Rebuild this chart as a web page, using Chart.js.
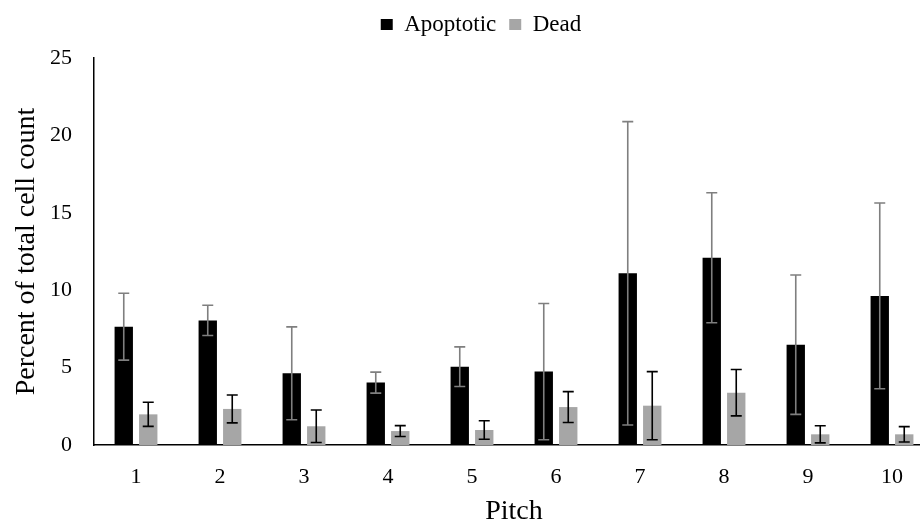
<!DOCTYPE html>
<html>
<head>
<meta charset="utf-8">
<script src="https://cdn.jsdelivr.net/npm/chart.js@4.4.0/dist/chart.umd.min.js"></script>
<style>
  html, body { margin: 0; padding: 0; background: #fff; overflow: hidden; }
  #wrap { width: 940px; height: 530px; }
</style>
</head>
<body>
<div id="wrap"><canvas id="chart"></canvas></div>
<script>
// ---- data ----
const pitches = ['1', '2', '3', '4', '5', '6', '7', '8', '9', '10'];
const apoptotic = [7.64, 8.05, 4.63, 4.03, 5.06, 4.74, 11.09, 12.1, 6.48, 9.63];
const apoptoticErr = [2.16, 0.98, 3.0, 0.68, 1.28, 4.4, 9.8, 4.2, 4.5, 6.0];
const dead = [1.98, 2.33, 1.21, 0.9, 0.97, 2.45, 2.54, 3.38, 0.69, 0.69];
const deadErr = [0.78, 0.9, 1.05, 0.35, 0.6, 1.0, 2.2, 1.5, 0.55, 0.5];
const yTicks = [0, 5, 10, 15, 20, 25];

const serif = '"Liberation Serif", "Times New Roman", serif';

// error bars drawn on top of the bars, through the y scale
const errorBars = {
  id: 'errorBars',
  afterDatasetsDraw(chart) {
    const ctx = chart.ctx;
    const yScale = chart.scales.y;
    chart.data.datasets.forEach((ds, i) => {
      const meta = chart.getDatasetMeta(i);
      if (meta.hidden) return;
      meta.data.forEach((bar, j) => {
        const v = ds.data[j];
        const e = ds.errors[j];
        const top = yScale.getPixelForValue(v + e);
        const bot = yScale.getPixelForValue(Math.max(v - e, 0));
        const x = bar.x;
        ctx.save();
        ctx.strokeStyle = ds.errorColor;
        ctx.lineWidth = 1.6;
        ctx.beginPath();
        ctx.moveTo(x, top); ctx.lineTo(x, bot);
        ctx.moveTo(x - 5.5, top); ctx.lineTo(x + 5.5, top);
        ctx.moveTo(x - 5.5, bot); ctx.lineTo(x + 5.5, bot);
        ctx.stroke();
        ctx.restore();
      });
    });
  }
};

// fixed legend band height, legend nudged right like the original
const legendTweak = {
  id: 'legendTweak',
  afterInit(chart) {
    const lg = chart.legend;
    if (!lg) return;
    const fit = lg.fit.bind(lg);
    lg.fit = function () { fit(); this.height = 58; };
  },
  afterLayout(chart) {
    const lg = chart.legend;
    if (!lg) return;
    lg.left += 14;
    lg.right += 14;
  }
};

new Chart(document.getElementById('chart'), {
  type: 'bar',
  data: {
    labels: pitches,
    datasets: [
      {
        label: 'Apoptotic',
        data: apoptotic,
        errors: apoptoticErr,
        errorColor: '#7f7f7f',
        backgroundColor: '#000000',
        barPercentage: 0.75,
        categoryPercentage: 0.583
      },
      {
        label: 'Dead',
        data: dead,
        errors: deadErr,
        errorColor: '#000000',
        backgroundColor: '#a6a6a6',
        barPercentage: 0.75,
        categoryPercentage: 0.583
      }
    ]
  },
  options: {
    responsive: true,
    maintainAspectRatio: false,
    animation: false,
    layout: { padding: { top: 0, right: 6, left: 0, bottom: 0 } },
    plugins: {
      tooltip: { enabled: false },
      legend: {
        position: 'top',
        labels: {
          color: '#000',
          font: { family: serif, size: 23 },
          boxWidth: 12,
          boxHeight: 11,
          padding: 13
        }
      }
    },
    scales: {
      x: {
        grid: { display: false, drawTicks: false },
        border: { color: '#000', width: 1.5 },
        ticks: { color: '#000', font: { family: serif, size: 22 }, padding: 19 },
        title: {
          display: true,
          text: 'Pitch',
          color: '#000',
          font: { family: serif, size: 28, lineHeight: 1 },
          padding: { top: 0, bottom: 4 }
        },
        afterFit(scale) { scale.height = 85; }
      },
      y: {
        min: 0,
        max: 25,
        grid: { display: false, drawTicks: false },
        border: { color: '#000', width: 1.5 },
        afterBuildTicks(scale) { scale.ticks = yTicks.map(v => ({ value: v })); },
        ticks: { color: '#000', font: { family: serif, size: 22 }, padding: 22 },
        title: {
          display: true,
          text: 'Percent of total cell count',
          color: '#000',
          font: { family: serif, size: 28 },
          padding: { top: 10, bottom: 0 }
        },
        afterFit(scale) { scale.width = 94; }
      }
    }
  },
  plugins: [errorBars, legendTweak]
});
</script>
</body>
</html>
